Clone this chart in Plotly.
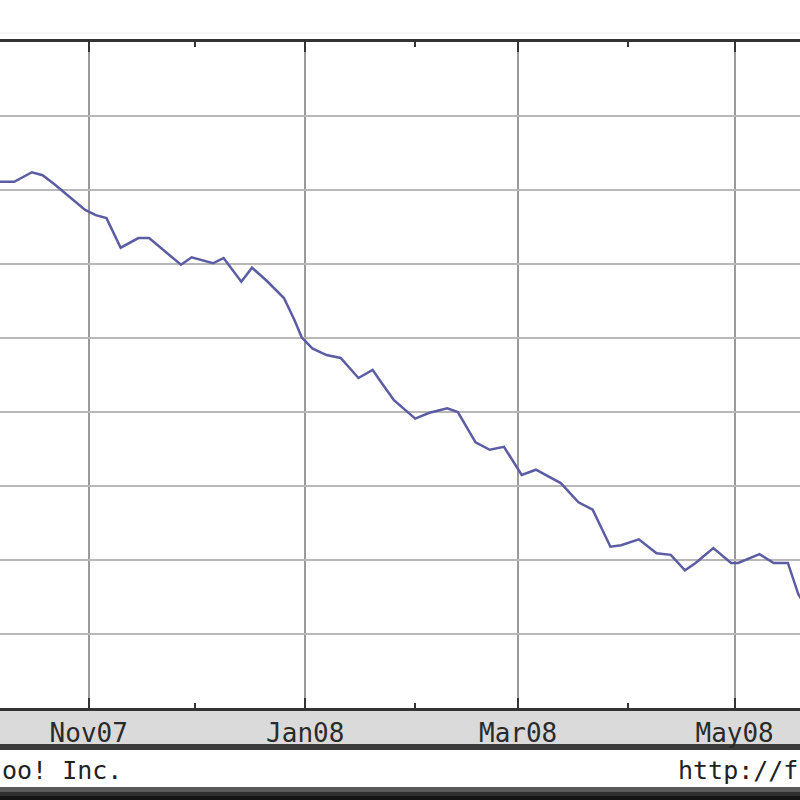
import plotly.graph_objects as go

# Weekly-ish closing values (arbitrary price units)
dates = [
    "2007-10-07", "2007-10-11", "2007-10-16", "2007-10-19", "2007-10-22",
    "2007-10-27", "2007-10-31", "2007-11-03", "2007-11-06", "2007-11-10",
    "2007-11-15", "2007-11-18", "2007-11-22", "2007-11-27", "2007-11-30",
    "2007-12-06", "2007-12-09", "2007-12-14", "2007-12-17", "2007-12-21",
    "2007-12-26", "2007-12-29", "2007-12-31", "2008-01-03", "2008-01-07",
    "2008-01-11", "2008-01-16", "2008-01-20", "2008-01-22", "2008-01-26",
    "2008-02-01", "2008-02-05", "2008-02-10", "2008-02-13", "2008-02-18",
    "2008-02-22", "2008-02-26", "2008-03-02", "2008-03-06", "2008-03-13",
    "2008-03-18", "2008-03-22", "2008-03-27", "2008-03-30", "2008-04-04",
    "2008-04-09", "2008-04-13", "2008-04-17", "2008-04-20", "2008-04-25",
    "2008-04-30", "2008-05-02", "2008-05-08", "2008-05-12", "2008-05-16",
    "2008-05-19", "2008-05-22",
]
prices = [
    27.11, 27.11, 27.24, 27.20, 27.09,
    26.89, 26.73, 26.66, 26.62, 26.22,
    26.35, 26.35, 26.19, 25.99, 26.09,
    26.01, 26.08, 25.76, 25.95, 25.78,
    25.54, 25.24, 25.01, 24.86, 24.77,
    24.73, 24.46, 24.57, 24.43, 24.16,
    23.91, 23.99, 24.05, 24.00, 23.59,
    23.49, 23.53, 23.15, 23.22, 23.04,
    22.78, 22.68, 22.18, 22.20, 22.28,
    22.09, 22.07, 21.86, 21.96, 22.16,
    21.96, 21.96, 22.08, 21.96, 21.96,
    21.53, 21.32,
]

x_range = ["2007-10-07", "2008-05-19 10:00"]
y_range = [20, 29]
left_footer = "oo! Inc."
right_footer = "http://f"

PLOT_TOP, PLOT_BOTTOM = 42, 708


def py(p):
    """pixel row -> paper y"""
    return (PLOT_BOTTOM - p) / (PLOT_BOTTOM - PLOT_TOP)


fig = go.Figure()
fig.add_trace(go.Scatter(
    x=dates, y=prices, mode="lines",
    line=dict(color="#5c5ca4", width=2.5),
    hoverinfo="skip", showlegend=False,
))

mono = "DejaVu Sans Mono"

fig.update_layout(
    width=800, height=800,
    margin=dict(l=0, r=0, t=PLOT_TOP, b=800 - PLOT_BOTTOM, pad=0, autoexpand=False),
    paper_bgcolor="white", plot_bgcolor="white",
    showlegend=False,
    xaxis=dict(
        type="date", range=x_range, automargin=False,
        tick0="2007-11-01", dtick="M2", tickformat="%b%y",
        ticks="inside", ticklen=10, tickwidth=2, tickcolor="#333",
        showline=True, linecolor="#333", linewidth=3, mirror="ticks",
        showgrid=True, gridcolor="#9a9a9a", gridwidth=2,
        zeroline=False,
        tickfont=dict(family=mono, size=26, color="#2a2a2a"),
        ticklabelstandoff=0,
        minor=dict(dtick="M1", tick0="2007-11-01", ticks="inside",
                   ticklen=5, tickwidth=2, tickcolor="#333", showgrid=False),
        fixedrange=True,
    ),
    yaxis=dict(
        range=y_range, dtick=1, tick0=20, automargin=False,
        showticklabels=False, ticks="",
        showgrid=True, gridcolor="#b8b8b8", gridwidth=2,
        showline=False, zeroline=False, fixedrange=True,
    ),
    shapes=[
        # faint line above chart
        dict(type="line", xref="paper", yref="paper", x0=0, x1=1,
             y0=py(33), y1=py(33), line=dict(color="#ececec", width=1), layer="below"),
        # gray label band
        dict(type="rect", xref="paper", yref="paper", x0=0, x1=1,
             y0=py(711), y1=py(744), fillcolor="#dadada", line_width=0, layer="below"),
        # dark separator
        dict(type="rect", xref="paper", yref="paper", x0=0, x1=1,
             y0=py(744), y1=py(750), fillcolor="#3c3c3c", line_width=0, layer="below"),
        # bottom dark bar
        dict(type="rect", xref="paper", yref="paper", x0=0, x1=1,
             y0=py(787), y1=py(792), fillcolor="#5a5a5a", line_width=0, layer="below"),
        dict(type="rect", xref="paper", yref="paper", x0=0, x1=1,
             y0=py(792), y1=py(796), fillcolor="#303030", line_width=0, layer="below"),
        dict(type="rect", xref="paper", yref="paper", x0=0, x1=1,
             y0=py(796), y1=py(800), fillcolor="#151515", line_width=0, layer="below"),
    ],
    annotations=[
        dict(text=left_footer, xref="paper", yref="paper", x=0, y=py(770),
             xanchor="left", yanchor="middle", showarrow=False,
             font=dict(family=mono, size=25, color="#222")),
        dict(text=right_footer, xref="paper", yref="paper", x=1, y=py(770),
             xanchor="right", yanchor="middle", showarrow=False,
             font=dict(family=mono, size=25, color="#222")),
    ],
)

fig.write_html(
    "out.html",
    config={"displayModeBar": False, "staticPlot": True},
    post_script="document.body.style.margin='0';document.body.style.overflow='hidden';",
)
